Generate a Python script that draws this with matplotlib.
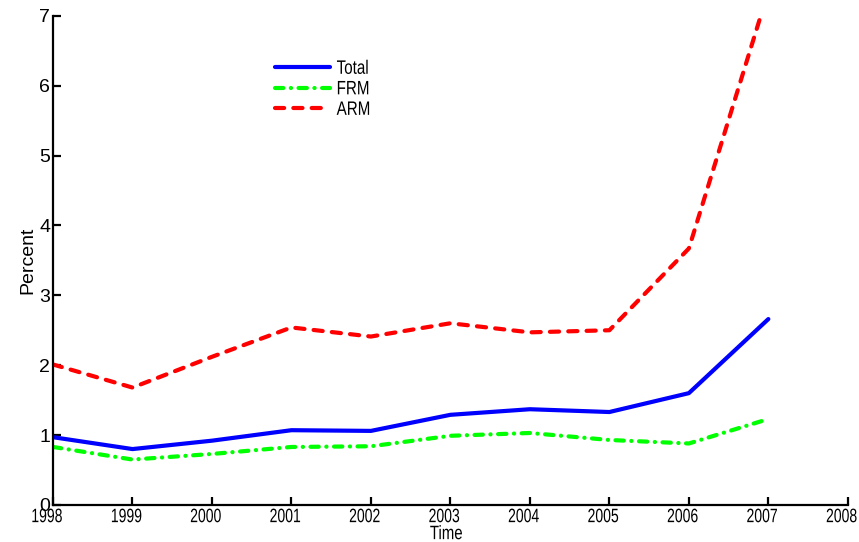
import matplotlib
matplotlib.use('Agg')
import matplotlib.pyplot as plt
from matplotlib import patheffects
from matplotlib.transforms import Affine2D

# delinquency rates by year
years = [1998, 1999, 2000, 2001, 2002, 2003, 2004, 2005, 2006, 2007]
total = [0.97, 0.80, 0.92, 1.07, 1.06, 1.29, 1.37, 1.33, 1.60, 2.66]
frm = [0.83, 0.65, 0.73, 0.83, 0.84, 0.99, 1.03, 0.93, 0.88, 1.23]
arm = [2.01, 1.68, 2.12, 2.54, 2.41, 2.60, 2.47, 2.50, 3.67, 7.35]

xticks = list(range(1998, 2009))
yticks = list(range(0, 8))

plt.rcParams['font.family'] = ['Liberation Sans', 'DejaVu Sans']


class Squeeze(patheffects.AbstractPathEffect):
    """squeeze text horizontally (and nudge it), like the cramped matlab labels"""

    def __init__(self, sx, anchor='center', dx=0):
        super().__init__()
        self.sx = sx
        self.anchor = anchor
        self.dx = dx

    def draw_path(self, renderer, gc, tpath, affine, rgbFace=None):
        v = affine.transform(tpath.vertices)
        if self.anchor == 'left':
            cx = v[:, 0].min()
        else:
            cx = (v[:, 0].min() + v[:, 0].max()) / 2
        squeeze = (Affine2D().translate(-cx, 0).scale(self.sx, 1)
                   .translate(cx + self.dx, 0))
        renderer.draw_path(gc, tpath, affine + squeeze, rgbFace)


fig = plt.figure(figsize=(8.59, 5.42), dpi=100)
ax = fig.add_axes([0.0617, 0.0683, 0.9253, 0.9027])

lw = 3
ax.plot(years, total, color=(0, 0, 1), lw=lw, label='Total',
        solid_capstyle='round', solid_joinstyle='round')
ax.plot(years, frm, color=(0, 1, 0), lw=lw, label='FRM',
        dashes=(2.0, 1.8, 0.05, 1.8), dash_capstyle='round')
ax.plot(years, arm, color=(1, 0, 0), lw=lw, label='ARM',
        dashes=(2.2, 2.2), dash_capstyle='round')

ax.set_xlim(1998, 2008)
ax.set_ylim(0, 7)
ax.set_xticks(xticks)
ax.set_yticks(yticks)
ax.set_xticklabels([str(x) for x in xticks], fontsize=14)
ax.set_yticklabels([str(y) for y in yticks], fontsize=14)
for t in ax.get_xticklabels():
    t.set_path_effects([Squeeze(0.72, dx=-6)])

for side in ['top', 'right']:
    ax.spines[side].set_visible(False)
for side in ['left', 'bottom']:
    ax.spines[side].set_linewidth(1.6)
ax.tick_params(direction='in', length=6, width=1.6, pad=2)
ax.tick_params(axis='x', pad=3)

ax.set_xlabel('Time', fontsize=14, labelpad=0,
              path_effects=[Squeeze(0.77, dx=-4)])
ax.set_ylabel('Percent', fontsize=14, labelpad=2)

leg = ax.legend(loc='upper left', bbox_to_anchor=(0.27, 0.925), frameon=False,
                prop={'size': 14}, handlelength=2.8,
                handletextpad=0.35, labelspacing=0.15, borderaxespad=0)
for t in leg.get_texts():
    t.set_path_effects([Squeeze(0.78, anchor='left')])

fig.savefig('out.png', dpi=100)
